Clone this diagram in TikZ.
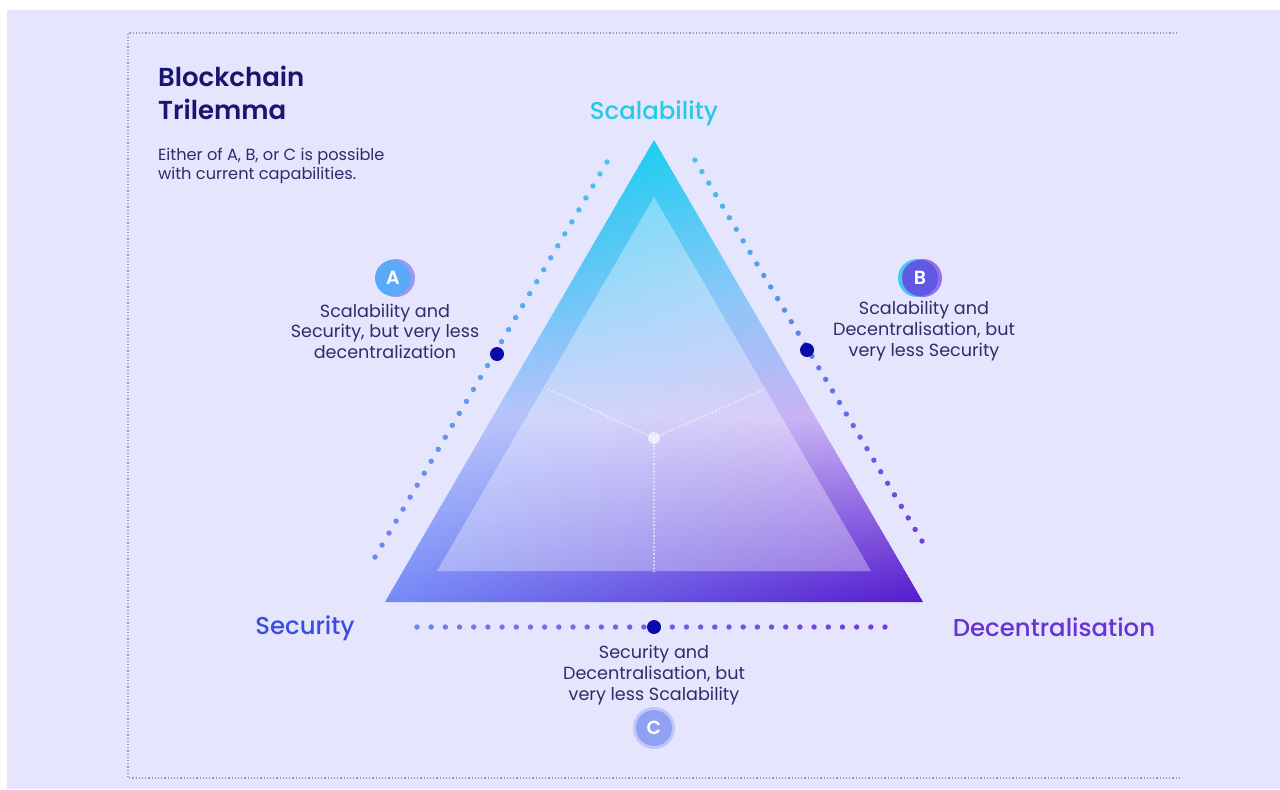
\documentclass[tikz,border=0pt]{standalone}
\usepackage{fontspec}
\setmainfont{Poppins}
\newfontfamily\popmed{Poppins Medium}
\newfontfamily\popsemi{Poppins SemiBold}
\usetikzlibrary{calc,positioning}

\definecolor{bgcol}{RGB}{229,230,254}
\definecolor{navy}{RGB}{24,22,110}
\definecolor{txtcol}{RGB}{45,45,105}
\definecolor{scacol}{RGB}{40,200,235}
\definecolor{seccol}{RGB}{60,78,225}
\definecolor{deccol}{RGB}{105,50,210}
\definecolor{markcol}{RGB}{10,10,170}
\definecolor{framecol}{RGB}{150,150,200}
\definecolor{dotcyan}{RGB}{70,195,240}
\definecolor{dotblue}{RGB}{110,130,240}
\definecolor{dotpur}{RGB}{115,60,220}
\definecolor{badgeA}{RGB}{90,170,247}
\definecolor{badgeAback}{RGB}{165,150,240}
\definecolor{badgeB}{RGB}{95,90,225}
\definecolor{badgeBleft}{RGB}{75,200,240}
\definecolor{badgeBright}{RGB}{150,110,240}
\definecolor{badgeC}{RGB}{145,160,243}
\definecolor{badgeChalo}{RGB}{190,200,250}
% triangle colours: left edge, centre, right edge, from top to bottom
\definecolor{L0}{RGB}{30,205,240}
\definecolor{L1}{RGB}{105,198,247}
\definecolor{L2}{RGB}{182,196,251}
\definecolor{L3}{RGB}{118,138,248}
\definecolor{M0}{RGB}{30,210,240}
\definecolor{M1}{RGB}{192,234,252}
\definecolor{M2}{RGB}{246,244,255}
\definecolor{M3}{RGB}{186,166,244}
\definecolor{R0}{RGB}{30,205,240}
\definecolor{R1}{RGB}{140,200,248}
\definecolor{R2}{RGB}{202,178,245}
\definecolor{R3}{RGB}{85,25,205}

\tikzset{
  corner/.style={font=\fontsize{12.2}{13}\popmed},
  note/.style={font=\fontsize{8.8}{10.3}\selectfont, text=txtcol, align=center},
  badge/.style={circle, minimum size=18pt, inner sep=0pt, text=white, font=\fontsize{9.5}{10}\popsemi},
  marker/.style={circle, fill=markcol, minimum size=7pt, inner sep=0pt},
}

\begin{document}
\begin{tikzpicture}[x=0.5pt, y=-0.5pt]
    % page and frame
    \useasboundingbox (0,0) rectangle (1280,789);
    \fill[white] (0,0) rectangle (1280,789);
    \fill[bgcol] (7,10) rectangle (1280,789);
    \coordinate (fr1) at (1177,33);
    \coordinate (fr2) at (128,33);
    \coordinate (fr3) at (128,778);
    \coordinate (fr4) at (1180,778);
    \draw[framecol, densely dotted, line width=0.6pt] (fr1) -- (fr2) -- (fr3) -- (fr4);

    % title
    \node[anchor=west, align=left, text=navy, font=\fontsize{13}{16.5}\popsemi] (title) at (151,93) {Blockchain\\Trilemma};
    \node[anchor=west, align=left, text=txtcol, font=\fontsize{8.1}{9.7}\selectfont] (sub) at (151,166) {Either of A, B, or C is possible\\with current capabilities.};

    % triangle
    \coordinate (sca) at (654,140);
    \coordinate (sec) at (385,602);
    \coordinate (dec) at (923,602);
    \coordinate (isca) at (654,197);
    \coordinate (isec) at (437,571);
    \coordinate (idec) at (871,571);
    \coordinate (mid) at (654,438);
    \begin{scope}
      \clip (sca) -- (sec) -- (dec) -- cycle;
      \foreach \k in {0,...,153}{
        \pgfmathsetmacro\ya{140+3*\k}
        \pgfmathsetmacro\yb{\ya+3.6}
        \pgfmathsetmacro\t{(\k+0.5)/154}
        \pgfmathsetmacro\hw{0.5823*(\yb-140)+1}
        \ifdim\t pt<0.33pt
          \pgfmathtruncatemacro\p{100*\t/0.33}
          \colorlet{cl}{L1!\p!L0}\colorlet{cm}{M1!\p!M0}\colorlet{cr}{R1!\p!R0}
        \else\ifdim\t pt<0.6pt
          \pgfmathtruncatemacro\p{100*(\t-0.33)/0.27}
          \colorlet{cl}{L2!\p!L1}\colorlet{cm}{M2!\p!M1}\colorlet{cr}{R2!\p!R1}
        \else
          \pgfmathtruncatemacro\p{100*(\t-0.6)/0.4}
          \colorlet{cl}{L3!\p!L2}\colorlet{cm}{M3!\p!M2}\colorlet{cr}{R3!\p!R2}
        \fi\fi
        \shade[left color=cl, middle color=cm, right color=cr] ({654-\hw},\ya) rectangle ({654+\hw},\yb);
      }
    \end{scope}
    \fill[white, opacity=0.33] (isca) -- (isec) -- (idec) -- cycle;
    \coordinate (ml) at (548,389);
    \coordinate (mr) at (765,389);
    \coordinate (mb) at (654,572);
    \draw[white, opacity=0.6, densely dotted, line width=0.8pt] (ml) -- (mid) -- (mr) (mid) -- (mb);
    \fill[white, opacity=0.6] (mid) circle (6);

    % corner labels
    \node[corner, text=scacol] (scalab) at (654,113) {Scalability};
    \node[corner, text=seccol] (secur) at (305,628) {Security};
    \node[corner, text=deccol] (decen) at (1054,627) {Decentralisation};

    % dotted lines
    \coordinate (a1) at (375,557);
    \coordinate (a2) at (607,162);
    \coordinate (b1) at (695,160);
    \coordinate (b2) at (922,541);
    \coordinate (c1) at (417,627);
    \coordinate (c2) at (885,627);
    \foreach \i in {0,...,33}{
      \pgfmathsetmacro\t{\i/33}
      \pgfmathtruncatemacro\p{100*\i/33}
      \fill[dotcyan!\p!dotblue] ($(a1)!\t!(a2)$) circle (2.7);
      \fill[dotpur!\p!dotcyan] ($(b1)!\t!(b2)$) circle (2.7);
      \fill[dotpur!\p!dotblue] ($(c1)!\t!(c2)$) circle (2.7);
    }
    \node[marker] (ma) at (497,354) {};
    \node[marker] (mbb) at (807,350) {};
    \node[marker] (mc) at (654,627) {};

    % badges
    \fill[badgeAback] (396,278) circle (19);
    \node[badge, fill=badgeA] (bA) at (393,278) {A};
    \fill[badgeBleft] (917,278) circle (19);
    \fill[badgeBright] (923,278) circle (19);
    \node[badge, fill=badgeB] (bB) at (920,278) {B};
    \fill[badgeChalo] (654,728) circle (21);
    \node[badge, fill=badgeC] (bC) at (654,728) {C};

    % notes
    \node[note] (nA) at (385,331) {Scalability and\\Security, but very less\\decentralization};
    \node[note] (nB) at (924,331) {Scalability and\\Decentralisation, but\\very less Security};
    \node[note] (nC) at (654,675) {Security and\\Decentralisation, but\\very less Scalability};
\end{tikzpicture}
\end{document}
